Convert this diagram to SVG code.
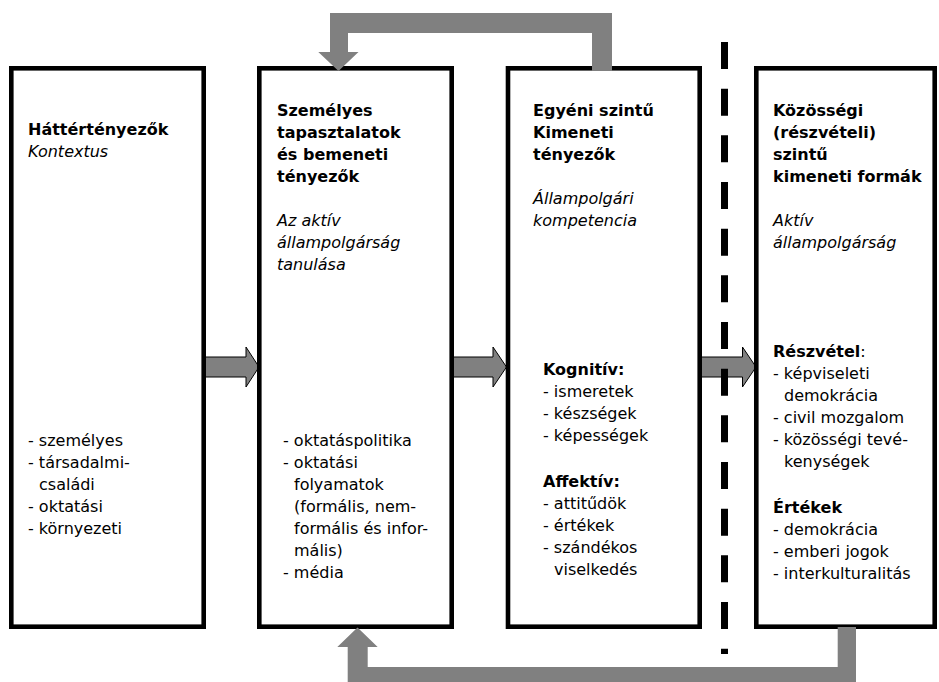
<svg xmlns="http://www.w3.org/2000/svg" width="939" height="682" viewBox="0 0 939 682">
<style>
.box{fill:#fff;stroke:#000;stroke-width:4.6}
.t{font-family:"DejaVu Sans","Verdana",sans-serif;font-size:16px;fill:#000}
.b{font-weight:bold}
.i{font-style:italic}
.arr{fill:#808080;stroke:#000;stroke-width:1}
.fb{fill:#808080}
.dash{stroke:#000;stroke-width:7;stroke-dasharray:27 19.67;fill:none}
</style>
<rect width="939" height="682" fill="#fff"/>
<g id="connectors">
<polygon class="arr" points="204,357 246,357 246,347 259,367 246,387 246,377 204,377"/>
<polygon class="arr" points="452,357 493,357 493,347 506.5,367 493,387 493,377 452,377"/>
<polygon class="arr" points="700.5,357 742.5,357 742.5,347 756,367 742.5,387 742.5,377 700.5,377"/>
</g>
<g id="box1">
<rect class="box" x="11.3" y="68.3" width="192.4" height="558.4"/>
<text class="t b" x="28" y="135">Háttértényezők</text>
<text class="t i" x="28" y="157">Kontextus</text>
<text class="t" x="28" y="446">- személyes</text>
<text class="t" x="28" y="468">- társadalmi-</text>
<text class="t" x="39" y="490">családi</text>
<text class="t" x="28" y="512">- oktatási</text>
<text class="t" x="28" y="534">- környezeti</text>
</g>
<g id="box2">
<rect class="box" x="259.3" y="68.3" width="192.4" height="558.4"/>
<text class="t b" x="277" y="116">Személyes</text>
<text class="t b" x="277" y="138">tapasztalatok</text>
<text class="t b" x="277" y="160">és bemeneti</text>
<text class="t b" x="277" y="182">tényezők</text>
<text class="t i" x="277" y="226">Az aktív</text>
<text class="t i" x="277" y="248">állampolgárság</text>
<text class="t i" x="277" y="270">tanulása</text>
<text class="t" x="283" y="446">- oktatáspolitika</text>
<text class="t" x="283" y="468">- oktatási</text>
<text class="t" x="294" y="490">folyamatok</text>
<text class="t" x="294" y="512">(formális, nem-</text>
<text class="t" x="294" y="534">formális és infor-</text>
<text class="t" x="294" y="556">mális)</text>
<text class="t" x="283" y="578">- média</text>
</g>
<g id="box3">
<rect class="box" x="508" y="68.3" width="191.7" height="558.4"/>
<text class="t b" x="533" y="116">Egyéni szintű</text>
<text class="t b" x="533" y="138">Kimeneti</text>
<text class="t b" x="533" y="160">tényezők</text>
<text class="t i" x="533" y="204">Állampolgári</text>
<text class="t i" x="533" y="226">kompetencia</text>
<text class="t b" x="543" y="375">Kognitív:</text>
<text class="t" x="543" y="397">- ismeretek</text>
<text class="t" x="543" y="419">- készségek</text>
<text class="t" x="543" y="441">- képességek</text>
<text class="t b" x="543" y="487">Affektív:</text>
<text class="t" x="543" y="509">- attitűdök</text>
<text class="t" x="543" y="531">- értékek</text>
<text class="t" x="543" y="553">- szándékos</text>
<text class="t" x="554" y="575">viselkedés</text>
</g>
<g id="box4">
<rect class="box" x="756.3" y="68.3" width="178.4" height="558.4"/>
<text class="t b" x="773" y="116">Közösségi</text>
<text class="t b" x="773" y="138">(részvételi)</text>
<text class="t b" x="773" y="160">szintű</text>
<text class="t b" x="773" y="182">kimeneti formák</text>
<text class="t i" x="773" y="226">Aktív</text>
<text class="t i" x="773" y="248">állampolgárság</text>
<text class="t" x="773" y="357"><tspan class="b">Részvétel</tspan>:</text>
<text class="t" x="773" y="379">- képviseleti</text>
<text class="t" x="784" y="401">demokrácia</text>
<text class="t" x="773" y="423">- civil mozgalom</text>
<text class="t" x="773" y="445">- közösségi tevé-</text>
<text class="t" x="784" y="467">kenységek</text>
<text class="t b" x="773" y="513">Értékek</text>
<text class="t" x="773" y="535">- demokrácia</text>
<text class="t" x="773" y="557">- emberi jogok</text>
<text class="t" x="773" y="579">- interkulturalitás</text>
</g>
<g id="feedback">
<polygon class="fb" points="612,71 612,13 330,13 330,52 318.3,52 338.5,71 358.5,52 348,52 348,33 592,33 592,71"/>
<polygon class="fb" points="856,627 856,690 347.7,690 347.7,647 337.3,647 357.5,627.5 377.7,647 367.7,647 367.7,667 837.7,667 837.7,627"/>
</g>
<line id="divider" class="dash" x1="724.5" y1="42" x2="724.5" y2="654"/>
</svg>
